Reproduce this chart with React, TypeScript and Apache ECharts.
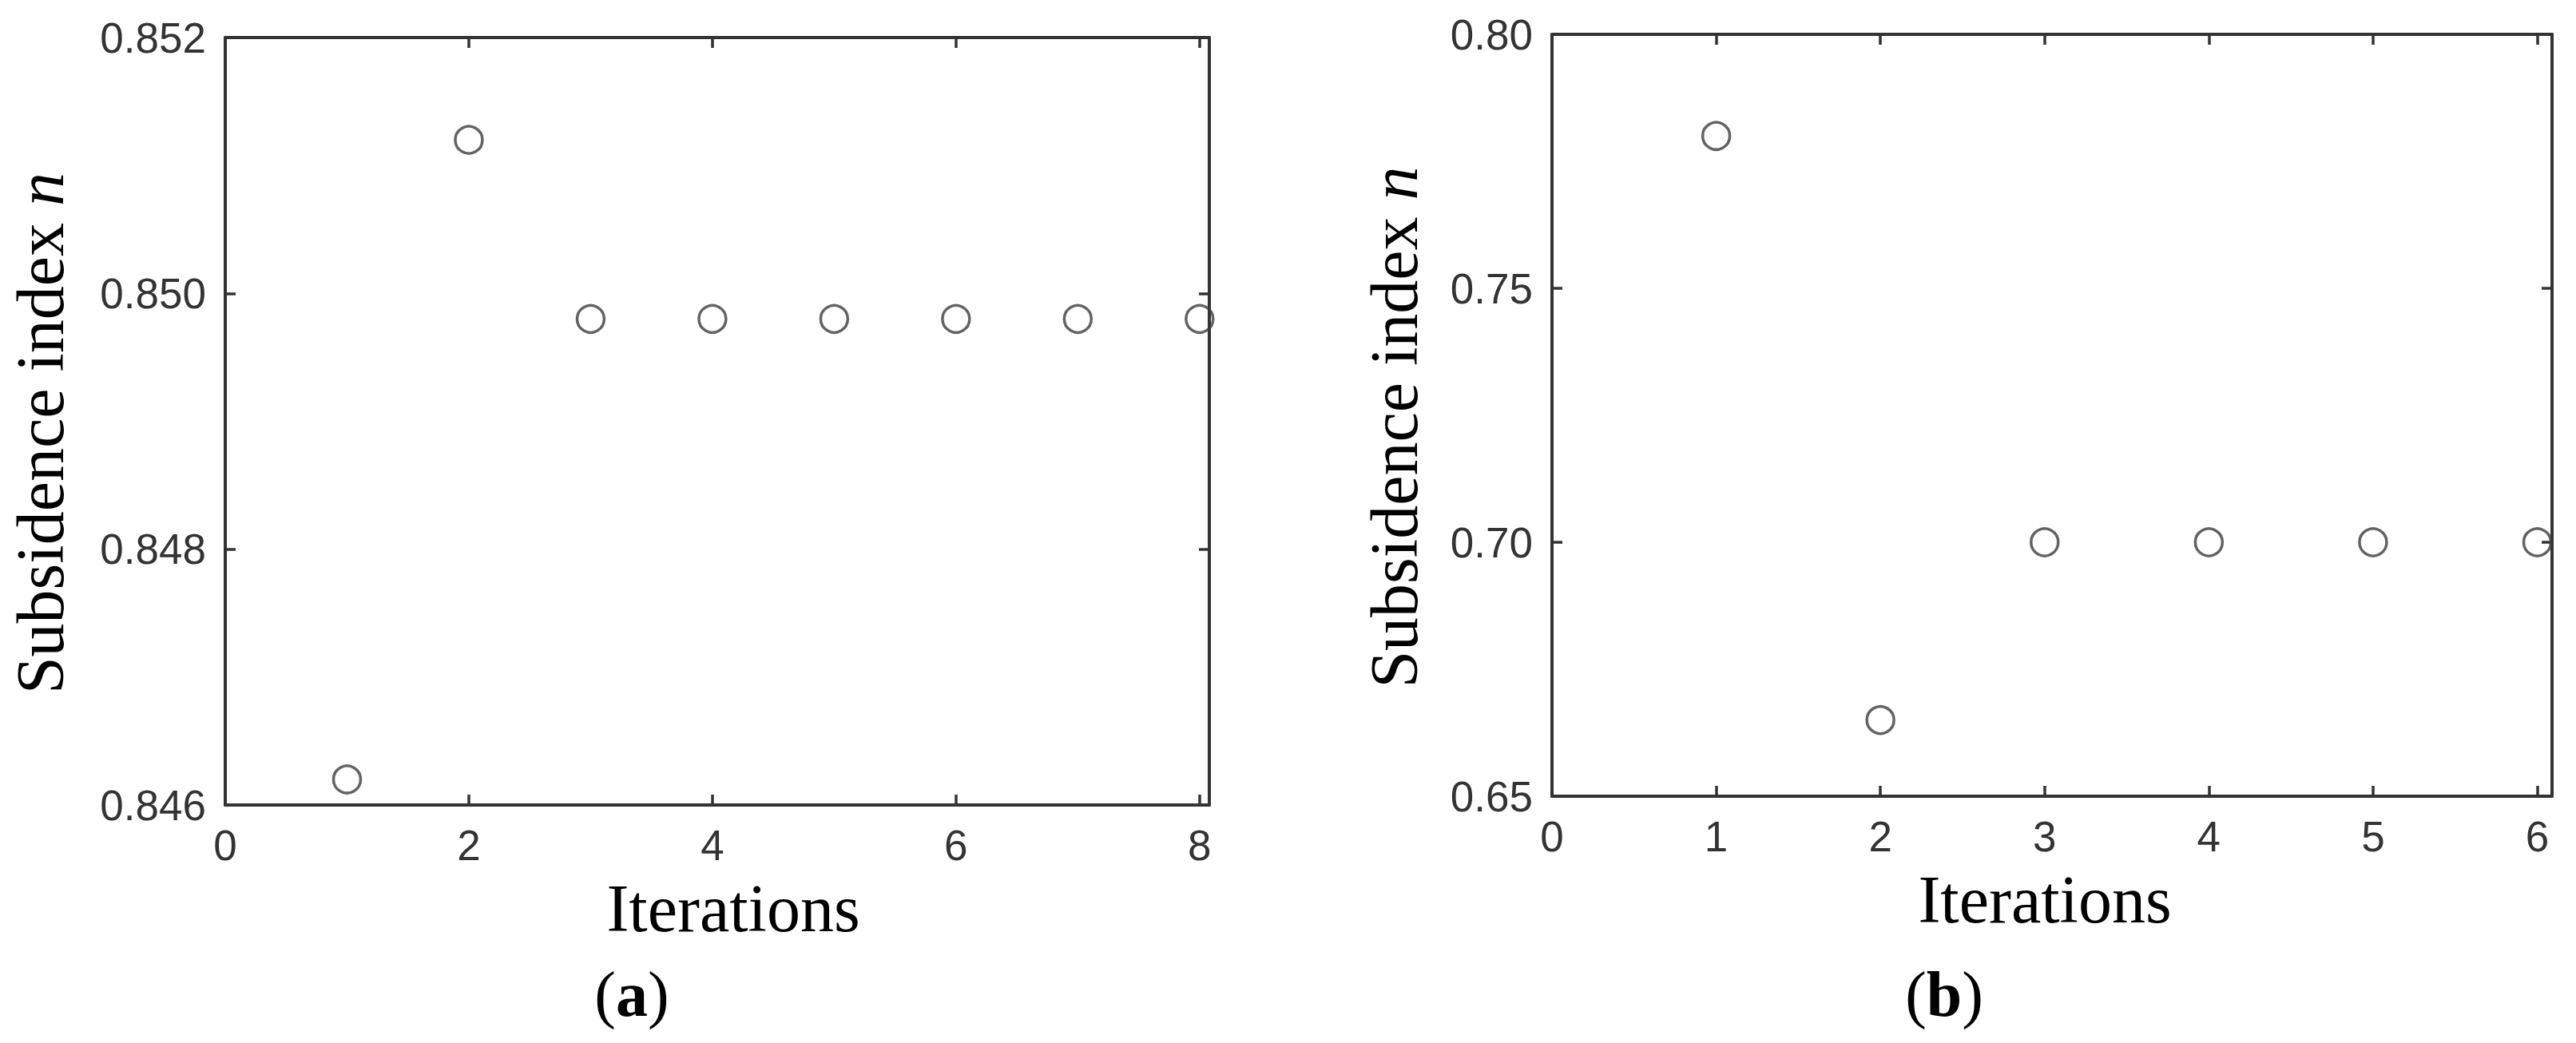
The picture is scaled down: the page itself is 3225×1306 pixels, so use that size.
import React, { useEffect, useRef } from "react";
import * as echarts from "echarts";

// ---- data ----
const leftIterations = [1, 2, 3, 4, 5, 6, 7, 8];
const leftIndexN = [0.8462, 0.8512, 0.8498, 0.8498, 0.8498, 0.8498, 0.8498, 0.8498];
const rightIterations = [1, 2, 3, 4, 5, 6];
const rightIndexN = [0.78, 0.665, 0.7, 0.7, 0.7, 0.7];

const leftXRange = [0, 8.08];
const leftXStep = 2;
const leftYRange = [0.846, 0.852];
const leftYStep = 0.002;
const rightXRange = [0, 6.09];
const rightXStep = 1;
const rightYRange = [0.65, 0.8];
const rightYStep = 0.05;

const xTitle = "Iterations";
const yTitleMain = "Subsidence index ";
const yTitleVar = "n";
const panelLabels = ["a", "b"];

const AXIS = "#333333";
const SANS = "Liberation Sans, Arial, sans-serif";
const SERIF = "Liberation Serif, Times New Roman, serif";

function xFmt(step: number) {
  return (v: number) => {
    const k = Math.round(v / step);
    return Math.abs(v - k * step) < 1e-6 ? String(k * step) : "";
  };
}

function makeX(gridIndex: number, range: number[], step: number, mirror: boolean, titleShift: number) {
  return {
    type: "value",
    gridIndex,
    position: mirror ? "top" : "bottom",
    min: range[0],
    max: range[1],
    interval: step,
    splitLine: { show: false },
    axisLine: { show: true, onZero: false, lineStyle: { color: AXIS, width: 4 } },
    axisTick: { show: true, inside: true, length: 13, lineStyle: { color: AXIS, width: 3.5 } },
    axisLabel: {
      show: !mirror,
      margin: 28,
      fontSize: 53,
      lineHeight: 44,
      fontFamily: SANS,
      color: AXIS,
      formatter: xFmt(step),
    },
    name: mirror ? "" : xTitle,
    nameLocation: "middle",
    nameGap: 99,
    nameMoveOverlap: false,
    nameTextStyle: {
      fontFamily: SERIF,
      fontSize: 84,
      lineHeight: 60,
      color: "#000",
      padding: titleShift >= 0 ? [0, 0, 0, titleShift * 2] : [0, -titleShift * 2, 0, 0],
    },
  };
}

function makeY(gridIndex: number, range: number[], step: number, digits: number, mirror: boolean, gap: number) {
  return {
    type: "value",
    gridIndex,
    position: mirror ? "right" : "left",
    min: range[0],
    max: range[1],
    interval: step,
    splitLine: { show: false },
    axisLine: { show: true, onZero: false, lineStyle: { color: AXIS, width: 4 } },
    axisTick: { show: true, inside: true, length: 13, lineStyle: { color: AXIS, width: 3.5 } },
    axisLabel: {
      show: !mirror,
      margin: 24,
      fontSize: 53,
      fontFamily: SANS,
      color: AXIS,
      formatter: (v: number) => v.toFixed(digits),
    },
    name: mirror ? "" : `{m|${yTitleMain}}{i|${yTitleVar}}`,
    nameLocation: "middle",
    nameGap: gap,
    nameMoveOverlap: false,
    nameTextStyle: {
      fontFamily: SERIF,
      fontSize: 84,
      lineHeight: 84,
      color: "#000",
      padding: [0, 30, 0, 0],
      rich: {
        m: { fontFamily: SERIF, fontSize: 84, lineHeight: 84, color: "#000" },
        i: { fontFamily: SERIF, fontSize: 84, lineHeight: 84, color: "#000", fontStyle: "italic" },
      },
    },
  };
}

function toPairs(xs: number[], ys: number[]) {
  return xs.map((x, i) => [x, ys[i]]);
}

export default function App() {
  const ref = useRef<HTMLDivElement>(null);
  useEffect(() => {
    if (!ref.current) return;
    const chart = echarts.init(ref.current, undefined, { renderer: "svg" });
    const marker = {
      type: "scatter",
      symbol: "circle",
      symbolSize: 34,
      itemStyle: { color: "rgba(255,255,255,0)", borderColor: "#3c3c3c", borderWidth: 3.5 },
      silent: true,
    };
    const panelRich = {
      p: { fontFamily: SERIF, fontSize: 80, fill: "#000", fontWeight: "normal" },
      b: { fontFamily: SERIF, fontSize: 80, fill: "#000", fontWeight: "bold" },
    };
    chart.setOption({
      animation: false,
      backgroundColor: "#ffffff",
      grid: [
        { left: 282, top: 47, width: 1232, height: 961, outerBoundsMode: "none", containLabel: false },
        { left: 1943, top: 43, width: 1252, height: 954, outerBoundsMode: "none", containLabel: false },
      ],
      xAxis: [
        makeX(0, leftXRange, leftXStep, false, 20),
        makeX(0, leftXRange, leftXStep, true, 0),
        makeX(1, rightXRange, rightXStep, false, -9),
        makeX(1, rightXRange, rightXStep, true, 0),
      ],
      yAxis: [
        makeY(0, leftYRange, leftYStep, 3, false, 190),
        makeY(0, leftYRange, leftYStep, 3, true, 0),
        makeY(1, rightYRange, rightYStep, 2, false, 156),
        makeY(1, rightYRange, rightYStep, 2, true, 0),
      ],
      series: [
        { ...marker, xAxisIndex: 0, yAxisIndex: 0, data: toPairs(leftIterations, leftIndexN) },
        { ...marker, xAxisIndex: 2, yAxisIndex: 2, data: toPairs(rightIterations, rightIndexN) },
      ],
      graphic: [
        {
          type: "text",
          x: 791,
          y: 1245,
          style: {
            text: `{p|(}{b|${panelLabels[0]}}{p|)}`,
            align: "center",
            verticalAlign: "middle",
            rich: panelRich,
          },
        },
        {
          type: "text",
          x: 2434,
          y: 1245,
          style: {
            text: `{p|(}{b|${panelLabels[1]}}{p|)}`,
            align: "center",
            verticalAlign: "middle",
            rich: panelRich,
          },
        },
      ],
    });
    return () => chart.dispose();
  }, []);
  return (
    <div
      ref={ref}
      style={{ position: "absolute", left: 0, top: 0, width: 3225, height: 1306, background: "#fff" }}
    />
  );
}
